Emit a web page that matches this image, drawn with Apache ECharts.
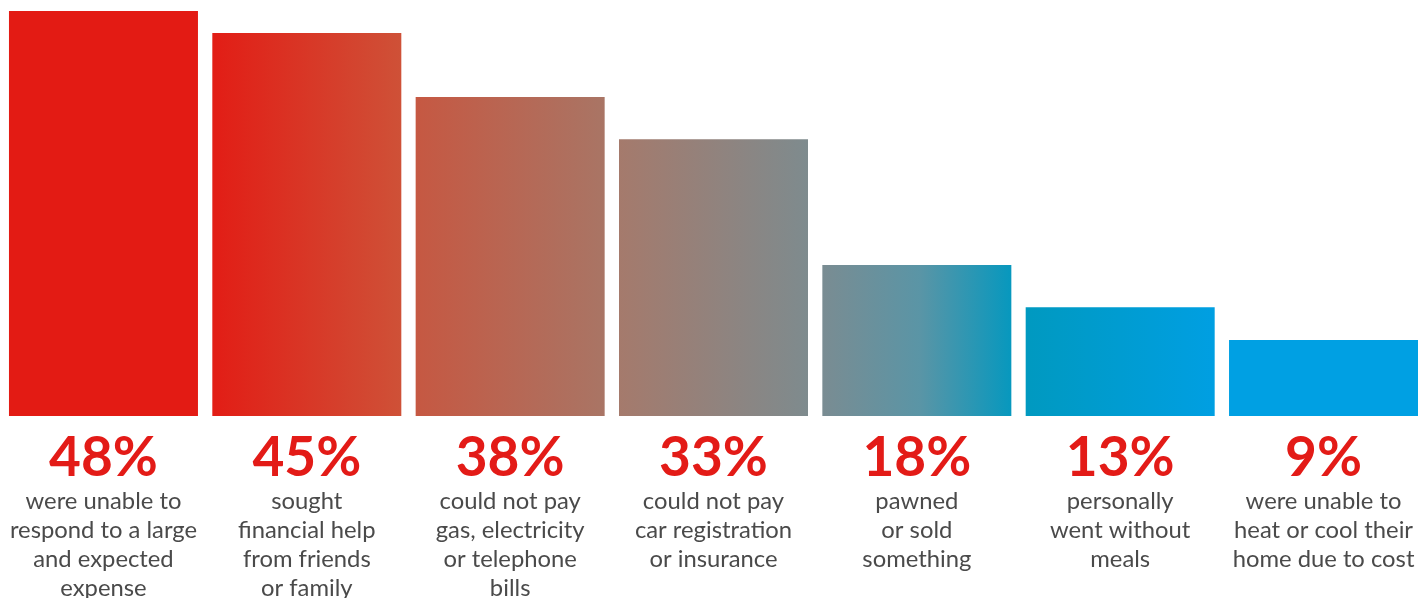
<!DOCTYPE html>
<html>
<head>
<meta charset="utf-8">
<script src="https://cdn.jsdelivr.net/npm/echarts@6/dist/echarts.min.js"></script>
<style>
html,body{margin:0;padding:0;background:#fff;overflow:hidden;width:100%;height:100%;}
#chart{width:100vw;height:100vh;}
</style>
</head>
<body>
<div id="chart"></div>
<script>
// bar heights; labels as printed
const percentages = [48, 45.4, 37.8, 32.8, 17.9, 12.9, 9];
const percentLabels = ['48%', '45%', '38%', '33%', '18%', '13%', '9%'];
const descriptions = [
  'were unable to\nrespond to a large\nand expected\nexpense',
  'sought\nfinancial help\nfrom friends\nor family',
  'could not pay\ngas, electricity\nor telephone\nbills',
  'could not pay\ncar registration\nor insurance',
  'pawned\nor sold\nsomething',
  'personally\nwent without\nmeals',
  'were unable to\nheat or cool their\nhome due to cost'
];

const W = 1418;
const stopsPx = [
  [205, '#E31B14'],
  [405, '#CE5238'],
  [416, '#C65842'],
  [605, '#A97565'],
  [619, '#A57A6C'],
  [808, '#7E8B8E'],
  [822, '#7A8C92'],
  [920, '#5A95A6'],
  [1011, '#0798BE'],
  [1026, '#0099C0'],
  [1215, '#009FE2'],
  [1229, '#00A0E3']
];
const gradient = {
  type: 'linear', x: 0, y: 0, x2: W, y2: 0, global: true,
  colorStops: stopsPx.map(s => ({offset: s[0] / W, color: s[1]}))
};

const chart = echarts.init(document.getElementById('chart'));
chart.setOption({
  animation: false,
  grid: {left: 1.8, right: -7.2, top: 11, bottom: 182, containLabel: false, outerBoundsMode: 'none'},
  xAxis: {
    type: 'category',
    data: descriptions.map((d, i) => i),
    axisLine: {show: false},
    axisTick: {show: false},
    axisLabel: {
      interval: 0,
      margin: 13,
      formatter: function (v, i) {
        const lines = descriptions[i].split('\n').map(l => '{d|' + l + '}').join('\n');
        return '{p|' + percentLabels[i] + '}\n' + lines;
      },
      rich: {
        p: {fontFamily: 'Lato', fontWeight: 'bold', fontSize: 55, color: '#E31B17', lineHeight: 58, align: 'center'},
        d: {fontFamily: 'Lato', fontSize: 23.8, color: '#4A4A4A', lineHeight: 29, align: 'center'}
      }
    }
  },
  yAxis: {
    type: 'value', min: 0, max: 48, show: false,
    splitLine: {show: false}
  },
  series: [{
    type: 'bar',
    data: percentages,
    barWidth: 189,
    itemStyle: {color: gradient}
  }]
});
</script>
</body>
</html>
